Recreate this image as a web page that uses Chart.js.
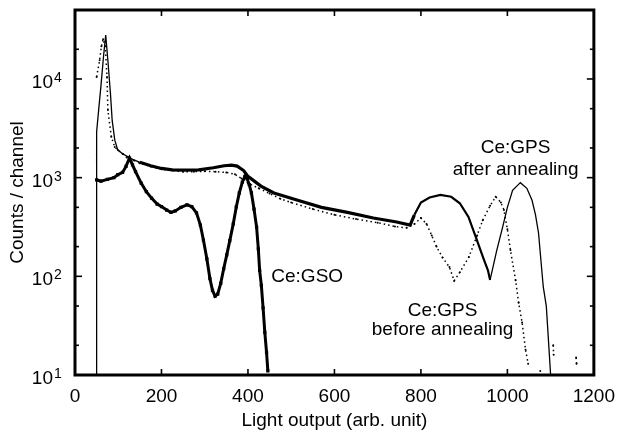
<!DOCTYPE html>
<html>
<head>
<meta charset="utf-8">
<script src="https://cdn.jsdelivr.net/npm/chart.js@4.4.1/dist/chart.umd.min.js"></script>
<style>
  html, body { margin: 0; padding: 0; background: #fff; }
  canvas { display: block; }
</style>
</head>
<body>
<canvas id="c" width="625" height="437"></canvas>
<script>
// ---- data ----
const afterX = [49, 50, 55, 60, 66, 71, 76, 82, 86, 92, 99, 110, 120, 135, 150, 175, 200, 225, 250, 286, 320, 345, 362, 375, 390, 400, 430, 460, 515, 570, 630, 690, 744, 775, 785, 800, 820, 845, 870, 890, 910, 927, 945, 955, 960, 965, 975, 989, 1000, 1012, 1030, 1045, 1057, 1065, 1072, 1083, 1090, 1100];
const afterY = [10, 2900, 5000, 8500, 17000, 27900, 15500, 7100, 3800, 2400, 1900, 1750, 1650, 1520, 1430, 1320, 1240, 1200, 1190, 1200, 1260, 1320, 1340, 1310, 1180, 1030, 820, 700, 590, 500, 445, 390, 355, 330, 420, 560, 630, 670, 640, 550, 400, 250, 150, 115, 92, 115, 180, 315, 500, 745, 890, 780, 590, 420, 275, 78, 50, 10];

const beforeX = [50, 57, 61, 65, 70, 74, 76, 84, 92, 100, 110, 120, 135, 150, 175, 200, 225, 250, 275, 300, 325, 350, 370, 385, 400, 425, 450, 475, 500, 550, 600, 650, 700, 740, 767, 785, 800, 813, 825, 836, 850, 866, 877, 890, 911, 930, 943, 960, 973, 985, 992, 1000, 1007, 1019, 1026, 1034, 1042, 1048, 1060, 1076, 1090, 1106, 1107, 1130, 1159, 1160];
const beforeY = [10500, 15500, 21500, 25300, 21500, 10500, 4840, 2600, 2040, 1900, 1750, 1600, 1500, 1400, 1300, 1220, 1180, 1150, 1150, 1160, 1150, 1130, 1080, 980, 880, 780, 690, 610, 560, 480, 420, 380, 350, 320, 310, 340, 390, 340, 260, 200, 155, 124, 90, 110, 157, 260, 370, 520, 640, 560, 470, 300, 185, 91, 54, 34, 18, 13, null, 11, null, 20, 16, null, 15, 13];

const gsoX = [50, 60, 75, 90, 99, 110, 118, 126, 133, 140, 153, 165, 177, 190, 200, 212, 222, 232, 245, 259, 270, 281, 290, 297, 305, 312, 318, 324, 330, 337, 344, 351, 358, 366, 373, 380, 387, 393, 398, 403, 408, 414, 420, 424, 427, 431, 435, 439, 443, 446];
const gsoY = [950, 920, 960, 1000, 1070, 1130, 1300, 1580, 1350, 1150, 880, 720, 620, 540, 510, 470, 445, 460, 500, 530, 510, 440, 330, 233, 150, 95, 72, 63, 66, 85, 120, 165, 230, 340, 505, 700, 900, 1030, 980, 850, 700, 480, 315, 190, 115, 81, 48, 27, 17, 11];

const xTicks = [0, 200, 400, 600, 800, 1000, 1200];
const yTickExps = [1, 2, 3, 4];
const yMinorTicks = [20, 50, 200, 500, 2000, 5000, 20000];

const annotations = [
  { text: 'Ce:GSO', x: 537, y: 100 },
  { text: 'Ce:GPS', x: 850, y: 44.6 },
  { text: 'before annealing', x: 850, y: 28.6 },
  { text: 'Ce:GPS', x: 1019, y: 2000 },
  { text: 'after annealing', x: 1019, y: 1195 }
];

const FONT = '"Liberation Sans", Arial, Helvetica, sans-serif';
const toPts = (xs, ys) => xs.map((x, i) => ({ x: x, y: ys[i] }));

const framePlugin = {
  id: 'frameTicks',
  afterDatasetsDraw(chart) {
    const { ctx, chartArea: a, scales: { x, y } } = chart;
    ctx.save();
    ctx.strokeStyle = '#000';
    ctx.fillStyle = '#000';
    const seg = (x1, y1, x2, y2) => { ctx.beginPath(); ctx.moveTo(x1, y1); ctx.lineTo(x2, y2); ctx.stroke(); };
    ctx.lineWidth = 1.6;
    xTicks.forEach(v => {
      const p = x.getPixelForValue(v);
      seg(p, a.bottom, p, a.bottom - 6);
      seg(p, a.top, p, a.top + 6);
    });
    yTickExps.forEach(e => {
      const p = y.getPixelForValue(Math.pow(10, e));
      seg(a.left, p, a.left + 7, p);
      seg(a.right, p, a.right - 7, p);
    });
    yMinorTicks.forEach(v => {
      const p = y.getPixelForValue(v);
      seg(a.left, p, a.left + 4, p);
      seg(a.right, p, a.right - 4, p);
    });
    ctx.lineWidth = 3;
    ctx.strokeRect(a.left, a.top, a.right - a.left, a.bottom - a.top);

    // y tick labels 10^n
    yTickExps.forEach(e => {
      const p = y.getPixelForValue(Math.pow(10, e));
      ctx.font = '19px ' + FONT;
      ctx.textAlign = 'right';
      ctx.textBaseline = 'alphabetic';
      ctx.fillText('10', 53, p + 9);
      ctx.font = '14px ' + FONT;
      ctx.textAlign = 'left';
      ctx.fillText(String(e), 54, p + 3);
    });

    // annotations
    ctx.font = '19px ' + FONT;
    ctx.textAlign = 'center';
    ctx.textBaseline = 'middle';
    annotations.forEach(t => {
      ctx.fillText(t.text, x.getPixelForValue(t.x), y.getPixelForValue(t.y));
    });
    ctx.restore();
  }
};

new Chart(document.getElementById('c'), {
  type: 'line',
  data: {
    datasets: [
      {
        label: 'Ce:GPS after annealing',
        data: toPts(afterX, afterY),
        borderColor: '#000',
        pointRadius: 0,
        borderWidth: 1.3,
        tension: 0,
        segment: {
          borderWidth: c => {
            const x0 = c.p0.parsed.x;
            if (x0 >= 140 && x0 < 780) return 3.2;
            if (x0 >= 780 && x0 < 960) return 2.2;
            return 1.3;
          }
        }
      },
      {
        label: 'Ce:GPS before annealing',
        data: toPts(beforeX, beforeY),
        borderColor: '#000',
        backgroundColor: '#000',
        borderWidth: 1.5,
        borderDash: [1.5, 3],
        pointRadius: 1,
        pointBorderWidth: 0,
        spanGaps: false,
        tension: 0
      },
      {
        label: 'Ce:GSO',
        data: toPts(gsoX, gsoY),
        borderColor: '#000',
        backgroundColor: '#000',
        borderWidth: 3,
        pointStyle: 'rect',
        pointRadius: 2.3,
        pointBorderWidth: 0,
        tension: 0
      }
    ]
  },
  options: {
    responsive: false,
    animation: false,
    devicePixelRatio: 1,
    layout: { padding: { top: 10, right: 26, left: 0, bottom: 0 } },
    plugins: { legend: { display: false }, tooltip: { enabled: false } },
    scales: {
      x: {
        type: 'linear',
        min: 0,
        max: 1200,
        afterBuildTicks: s => { s.ticks = xTicks.map(v => ({ value: v })); },
        ticks: { color: '#000', font: { family: FONT, size: 19 }, padding: 10, maxRotation: 0, autoSkip: false, callback: v => String(v) },
        grid: { display: false, drawTicks: false },
        border: { display: false },
        title: { display: true, text: 'Light output (arb. unit)', color: '#000', font: { family: FONT, size: 19 }, padding: { top: 0, bottom: 5 } },
        afterFit: s => { s.height = 62; }
      },
      y: {
        type: 'logarithmic',
        min: 10,
        max: 50000,
        ticks: { display: false },
        grid: { display: false, drawTicks: false },
        border: { display: false },
        title: { display: true, text: 'Counts / channel', color: '#000', font: { family: FONT, size: 19 }, padding: { top: 6, bottom: 0 } },
        afterFit: s => { s.width = 75; }
      }
    }
  },
  plugins: [framePlugin]
});
</script>
</body>
</html>
